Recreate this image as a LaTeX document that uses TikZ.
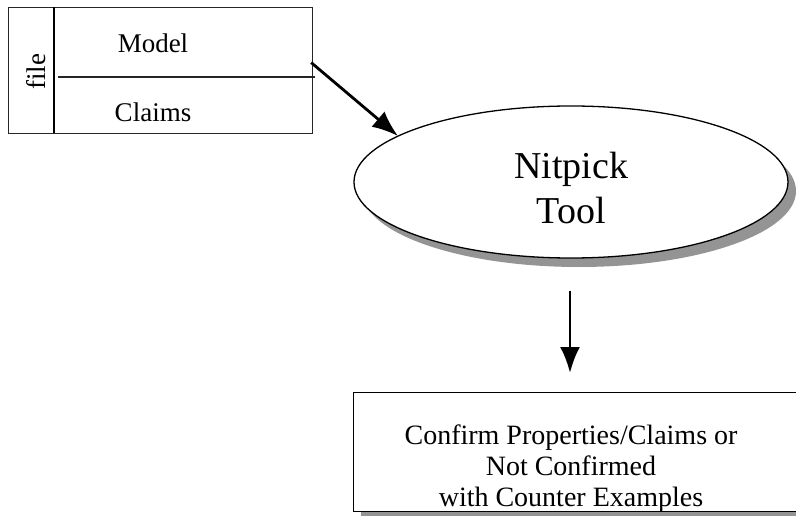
\documentclass[tikz,border=0pt]{standalone}
\usepackage{fontspec}
\setmainfont{Liberation Serif}
\usetikzlibrary{arrows.meta,shapes.geometric,calc}
\begin{document}
\begin{tikzpicture}[x=1pt,y=-1pt,
  thinline/.style={draw=black!85,line width=1.2pt},
  arr/.style={line width=2.8pt,-{Latex[length=26pt,width=20pt]}},
  lbl/.style={font=\fontsize{27}{30}\selectfont,inner sep=0pt},
]
\useasboundingbox (0,0) rectangle (796,516);
\clip (0,0) rectangle (796,516);
\fill[white] (0,0) rectangle (796,516);

% file box
\node[thinline,fill=white,minimum width=304pt,minimum height=126pt,inner sep=0pt,anchor=north west] (filebox) at (8,7) {};
\draw[line width=2.5pt] (54,7) -- (54,133);
\draw[line width=1.2pt,black!85] (58,77) -- (315,77);
\node[lbl,rotate=90] (file) at (36,72) {file};
\node[lbl,anchor=base] (model) at (153,53) {Model};
\node[lbl,anchor=base] (claims) at (153,122) {Claims};

% ellipse with shadow
\fill[black!42] (579,191) ellipse [x radius=217,y radius=76];
\node[ellipse,draw=black,line width=1.3pt,fill=white,minimum width=434pt,minimum height=152pt,inner sep=0pt] (nit) at (571,182) {};
\node[align=center,font=\fontsize{38}{45}\selectfont,inner sep=0pt,anchor=base] (nittext) at (571,223) {Nitpick\\Tool};

% output box with shadow
\fill[black!42] (361,400) rectangle (830,530);
\node[draw=black,line width=1.3pt,fill=white,minimum width=470pt,minimum height=119pt,inner sep=0pt,anchor=north west] (outbox) at (353,392) {};
\node[align=center,font=\fontsize{28}{31}\selectfont,inner sep=0pt,anchor=base] (outtext) at (571,506) {Confirm Properties/Claims or\\Not Confirmed\\with Counter Examples};

% arrows
\coordinate (a1s) at ($(filebox.east)+(-2,-8)$);
\coordinate (a1e) at (398,136);
\draw[arr] (a1s) -- (a1e);
\coordinate (a2s) at ($(nit.south)+(-1,32)$);
\coordinate (a2e) at ($(outbox.north west)+(217,-19)$);
\draw[arr] (a2s) -- (a2e);
\end{tikzpicture}
\end{document}
